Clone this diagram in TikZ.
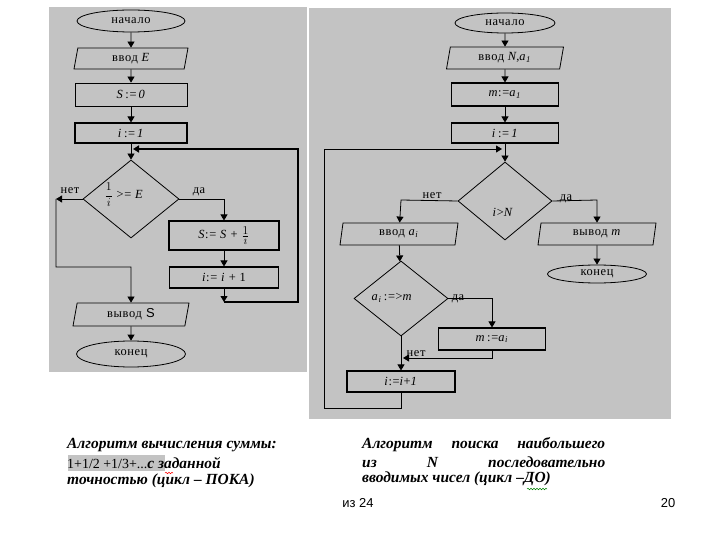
\documentclass[tikz,border=0pt]{standalone}
\usepackage{fontspec}
\setmainfont{Liberation Serif}
\setsansfont{Liberation Sans}
\newfontfamily\fcf[LetterSpace=5]{Liberation Serif}
\usetikzlibrary{shapes.geometric,arrows.meta,decorations.pathmorphing}
\definecolor{panel}{RGB}{195,195,195}
\begin{document}
\begin{tikzpicture}[x=1bp,y=-1bp,
  every node/.style={font=\fcf\fontsize{12.5}{14}\selectfont},
  base/.style={draw,line width=0.8bp,inner sep=0pt},
  term/.style={base,ellipse},
  proc/.style={base,rectangle},
  io/.style={base,trapezium,trapezium left angle=70,trapezium right angle=110,trapezium stretches body},
  dec/.style={base,diamond},
  arr/.style={-{Triangle[width=7bp,length=6bp]},line width=0.8bp},
  lbl/.style={inner sep=0pt},
  captxt/.style={inner sep=0pt,anchor=west,font=\rmfamily\bfseries\itshape\fontsize{15.5}{17}\selectfont},
  captxtr/.style={inner sep=0pt,anchor=west,font=\rmfamily\bfseries\itshape\fontsize{15.5}{17}\selectfont},
  foot/.style={inner sep=0pt,font=\sffamily\fontsize{13}{15}\selectfont}]
\useasboundingbox (0,0) rectangle (720,540);
\fill[white] (0,0) rectangle (720,540);
% panels
\fill[panel] (49,7) rectangle (307,372);
\fill[panel] (309,8) rectangle (671,419);

% ---------- left flowchart ----------
\node[term,minimum width=108bp,minimum height=22bp] (st1) at (131,21) {начало};
\node[io,minimum width=114bp,minimum height=21bp] (in1) at (131,58.5) {ввод \textit{E}};
\node[proc,minimum width=112bp,minimum height=23bp] (s0) at (131,94.5) {\textit{S}\,:=\,\textit{0}};
\node[proc,minimum width=112bp,minimum height=20bp,line width=1.1bp] (i1) at (131,133) {\textit{i}\,:=\,\textit{1}};
\node[dec,minimum width=96bp,minimum height=78bp] (c1) at (131,199) {};
\node[lbl] (c1t) at (124,195) {$\displaystyle\frac{1}{i}$ >= \textit{E}};
\node[lbl] (no1) at (70,191) {нет};
\node[lbl] (ye1) at (199,192) {да};
\node[proc,minimum width=110bp,minimum height=29bp,line width=1.1bp] (sum) at (224,235.5) {\textit{S}:= \textit{S} + $\frac{\textstyle 1}{\textstyle i}$};
\node[proc,minimum width=109bp,minimum height=21bp,line width=1.1bp] (inc1) at (224,277.5) {\textit{i}:= \textit{i} + 1};
\node[io,minimum width=116bp,minimum height=23bp] (out1) at (131,314.5) {вывод \textsf{\fontsize{13}{15}\selectfont S}};
\node[term,minimum width=109bp,minimum height=26bp] (en1) at (131,354) {конец};

\coordinate (n1) at (56,199);
\coordinate (n2) at (56,267);
\coordinate (n3) at (131,267);
\coordinate (y1) at (224,199);
\coordinate (j1) at (224,302);
\coordinate (lp1) at (298,302);
\coordinate (lp2) at (298,149);
\coordinate (lp3) at (133,149);

\draw[arr] (st1) -- (in1);
\draw[arr] (in1) -- (s0);
\draw[arr] (s0) -- (i1);
\draw[arr] (i1) -- (c1);
\draw[arr] (c1.west) -- (n1);
\draw[arr] (n1) -- (n2) -- (n3) -- (out1);
\draw[arr] (c1.east) -- (y1) -- (sum);
\draw[arr] (sum) -- (inc1);
\draw[arr] (inc1) -- (j1);
\draw[arr,line width=1.6bp] (j1) -- (lp1) -- (lp2) -- (lp3);
\draw[arr] (out1) -- (en1);

% ---------- right flowchart ----------
\node[term,minimum width=100bp,minimum height=20bp] (st2) at (505,23) {начало};
\node[io,minimum width=117bp,minimum height=22bp] (in2) at (505,58) {ввод \textit{N},\textit{a}\textsubscript{\textit{1}}};
\node[proc,minimum width=107bp,minimum height=23bp,line width=1.1bp] (m1) at (505,94.5) {\textit{m}:=\textit{a}\textsubscript{\textit{1}}};
\node[proc,minimum width=107bp,minimum height=20bp,line width=1.1bp] (i2) at (505,133) {\textit{i}\,:=\,\textit{1}};
\node[dec,minimum width=94bp,minimum height=78bp] (c2) at (505,201) {};
\node[lbl] (c2t) at (503,212) {\textit{i}>\textit{N}};
\node[lbl] (no2) at (432,196) {нет};
\node[lbl] (ye2) at (566,199) {да};
\node[io,minimum width=118bp,minimum height=22bp] (in3) at (399,234) {ввод \textit{a}\textsubscript{\textit{i}}};
\node[io,minimum width=118bp,minimum height=22bp] (out2) at (597,234) {вывод \textit{m}};
\node[term,minimum width=99bp,minimum height=18bp] (en2) at (597,274) {конец};
\node[dec,minimum width=94bp,minimum height=75bp] (c3) at (401,298.5) {};
\node[lbl] (c3t) at (392,298) {\textit{a}\textsubscript{\textit{i}}\,:=>\textit{m}};
\node[lbl] (ye3) at (458,299) {да};
\node[proc,minimum width=107bp,minimum height=22bp,line width=1.1bp] (m2) at (492,339) {\textit{m}\,:=\textit{a}\textsubscript{\textit{i}}};
\node[lbl] (no3) at (416,354) {нет};
\node[proc,minimum width=108bp,minimum height=21bp,line width=1.1bp] (inc2) at (401,381.5) {\textit{i}:=\textit{i}+\textit{1}};

\coordinate (rn1) at (401,200);
\coordinate (ry1) at (597,200);
\coordinate (ry3) at (492,298.5);
\coordinate (rm1) at (492,358);
\coordinate (rm2) at (403,358);
\coordinate (rl1) at (401,408);
\coordinate (rl2) at (324,408);
\coordinate (rl3) at (324,149);
\coordinate (rl4) at (502,149);

\draw[arr] (st2) -- (in2);
\draw[arr] (in2) -- (m1);
\draw[arr] (m1) -- (i2);
\draw[arr] (i2) -- (c2);
\draw[arr] (c2.west) -- (rn1) -- (in3);
\draw[arr] (c2.east) -- (ry1) -- (out2);
\draw[arr] (out2) -- (en2);
\draw[arr] (in3) -- (c3);
\draw[arr] (c3.east) -- (ry3) -- (m2);
\draw[arr] (m2.south) -- (rm1) -- (rm2);
\draw[arr] (c3) -- (inc2);
\draw[arr] (inc2) -- (rl1) -- (rl2) -- (rl3) -- (rl4);

% ---------- captions ----------
\fill[panel] (68,455) rectangle (165,471);
\node[captxt] (lc1) at (67,445) {Алгоритм вычисления суммы:};
\node[captxt] (lc2) at (67,463) {{\mdseries\upshape\fontsize{14}{16}\selectfont 1+1/2 +1/3+...}с заданной};
\node[captxt] (lc3) at (67,481) {точностью (цикл – ПОКА)};
\draw[red,line width=0.5bp,decorate,decoration={snake,amplitude=0.8bp,segment length=3bp}] (165,473) -- (173,473);

\node[captxtr] (rc1) at (362,445) {\makebox[243bp][s]{Алгоритм\hfill поиска\hfill наибольшего}};
\node[captxtr] (rc2) at (362,462) {\makebox[243bp][s]{из\hfill \textit{N}\hfill последовательно}};
\node[captxtr] (rc3) at (362,479) {вводимых чисел (цикл –ДО)};
\draw[green!50!black,line width=0.5bp,decorate,decoration={snake,amplitude=0.8bp,segment length=3bp}] (527,489) -- (547,489);

\node[foot] (pg1) at (358,503) {из 24};
\node[foot] (pg2) at (668,503) {20};
\end{tikzpicture}
\end{document}
